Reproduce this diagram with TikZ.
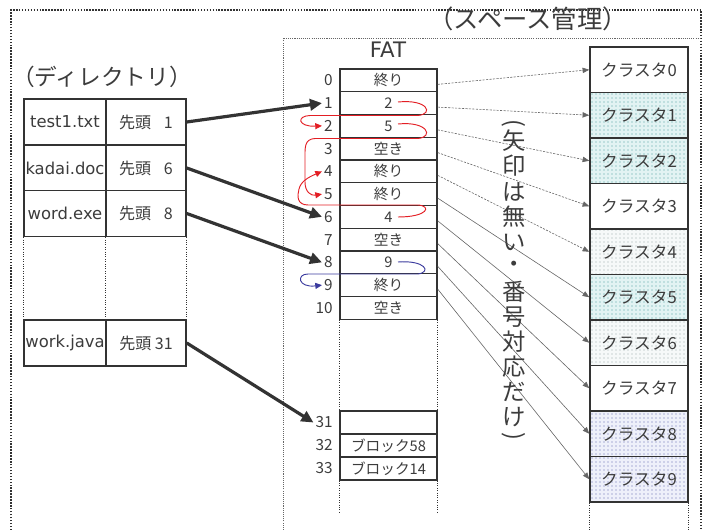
\documentclass[tikz,border=0pt]{standalone}
\usepackage{fontspec}
\setmainfont{Noto Sans CJK JP}
\newfontfamily\latinfont{DejaVu Sans}
\usetikzlibrary{arrows.meta,patterns}
\definecolor{ink}{HTML}{333333}
\definecolor{txt}{HTML}{3C3C3C}
\definecolor{fred}{HTML}{E31E24}
\definecolor{fblue}{HTML}{3B3B9E}
\definecolor{lnk}{HTML}{666666}
\definecolor{tealbg}{HTML}{E2F3F3}
\definecolor{tealdot}{HTML}{4E9E9E}
\definecolor{graybg}{HTML}{F6F9F9}
\definecolor{graydot}{HTML}{9AA8A8}
\definecolor{bluebg}{HTML}{EEF0FA}
\definecolor{bluedot}{HTML}{6266B0}
\begin{document}
\begin{tikzpicture}[x=0.75pt,y=-0.75pt,
  grid/.style={draw=ink, line width=1.1pt},
  dcell/.style={grid, minimum height=46*0.75pt, inner sep=0pt, text=txt, font=\fontsize{12}{14}\selectfont},
  fname/.style={dcell, font=\latinfont\fontsize{12.3}{14}\selectfont},
  fcell/.style={grid, fill=white, minimum width=97*0.75pt, minimum height=22.75*0.75pt, inner sep=0pt, text=txt, font=\fontsize{11}{12}\selectfont},
  ccell/.style={grid, minimum width=98*0.75pt, minimum height=45.5*0.75pt, inner sep=0pt, text=txt, font=\fontsize{12.5}{14}\selectfont},
  num/.style={anchor=east, text=txt, font=\fontsize{11.5}{13}\selectfont, inner sep=1.5pt},
  cplain/.style={fill=white},
  tdot/.style={preaction={fill=tealbg}, pattern=dots, pattern color=tealdot},
  gdot/.style={preaction={fill=graybg}, pattern=dots, pattern color=graydot},
  bdot/.style={preaction={fill=bluebg}, pattern=dots, pattern color=bluedot},
  flink/.style={draw=lnk, line width=0.45pt, -{Triangle[length=5pt,width=4pt]}},
  bigarrow/.style={draw=ink, line width=2.4pt, -{Triangle[length=9pt,width=8.5pt]}},
  redarr/.style={draw=fred, line width=0.7pt, -{Triangle[length=5pt,width=4.5pt]}},
  bluearr/.style={draw=fblue, line width=0.7pt, -{Triangle[length=5pt,width=4.5pt]}},
  vchar/.style={text=txt, font=\fontsize{17.5}{19}\selectfont, inner sep=0pt}
]
\useasboundingbox (0,0) rectangle (708,530);
% frames
\draw[ink, line width=1.1pt, dash pattern=on 1.1pt off 1.1pt] (11,530) -- (11,10) -- (701,10) -- (701,530);
\draw[lnk, line width=0.6pt, dash pattern=on 0.8pt off 0.8pt] (283,530) -- (283,38) -- (700,38);

% titles
\node[text=txt, font=\fontsize{19}{21}\selectfont] (sp) at (528,19) {（スペース管理）};
\node[text=txt, font=\fontsize{17}{19}\selectfont] (dir) at (102,77) {（ディレクトリ）};
\node[text=txt, font=\latinfont\fontsize{16}{18}\selectfont] (fat) at (388,50) {FAT};

% directory
\node[fname, fill=white, minimum width=82*0.75pt] (f1) at (65,122) {test1.txt};
\node[dcell, fill=white, minimum width=80*0.75pt] (h1) at (146,122) {先頭\hspace{0.8em}1};
\node[fname, fill=white, minimum width=82*0.75pt] (f2) at (65,168) {kadai.doc};
\node[dcell, fill=white, minimum width=80*0.75pt] (h2) at (146,168) {先頭\hspace{0.8em}6};
\node[fname, fill=white, minimum width=82*0.75pt] (f3) at (65,213.5) {word.exe};
\node[dcell, fill=white, minimum width=80*0.75pt] (h3) at (146,213.5) {先頭\hspace{0.8em}8};
\node[fname, fill=white, minimum width=82*0.75pt] (f4) at (65,343) {work.java};
\node[dcell, fill=white, minimum width=80*0.75pt] (h4) at (146,343) {先頭 31};
\draw[ink, line width=0.8pt, densely dotted] (f3.south west) -- (f4.north west);
\draw[ink, line width=0.8pt, densely dotted] (h3.south west) -- (h4.north west);
\draw[ink, line width=0.8pt, densely dotted] (h3.south east) -- (h4.north east);

% FAT
\foreach \i/\t in {0/終り,1/2,2/5,3/空き,4/終り,5/終り,6/4,7/空き,8/9,9/終り,10/空き}{
  \node[fcell] (r\i) at (388.5,{80.375+22.75*\i}) {\t};
  \node[num] (n\i) at (335,{80.375+22.75*\i}) {\i};
}
\node[fcell] (r31) at (388.5,422.5) {};
\node[fcell] (r32) at (388.5,445.5) {ブロック58};
\node[fcell] (r33) at (388.5,468.5) {ブロック14};
\node[num] (n31) at (335,422.5) {31};
\node[num] (n32) at (335,445.5) {32};
\node[num] (n33) at (335,468.5) {33};
\draw[ink, line width=0.8pt, densely dotted] (r10.south west) -- (r31.north west);
\draw[ink, line width=0.8pt, densely dotted] (r10.south east) -- (r31.north east);
\draw[ink, line width=0.8pt, densely dotted] (r33.south west) -- ++(0,32);
\draw[ink, line width=0.8pt, densely dotted] (r33.south east) -- ++(0,32);

% clusters
\foreach \i/\s in {0/cplain,1/tdot,2/tdot,3/cplain,4/gdot,5/tdot,6/gdot,7/cplain,8/bdot,9/bdot}{
  \node[ccell, \s] (c\i) at (639,{69.75+45.5*\i}) {クラスタ\i};
}
\draw[ink, line width=0.8pt, densely dotted] (c9.south west) -- ++(0,30);
\draw[ink, line width=0.8pt, densely dotted] (c9.south east) -- ++(0,30);

% FAT -> cluster links
\foreach \i in {0,...,4}{
  \draw[flink, dash pattern=on 1.6pt off 1pt] ([yshift=-3pt]r\i.east) -- (c\i.west);
}
\foreach \i in {5,...,9}{
  \draw[flink] ([yshift=-3pt]r\i.east) -- (c\i.west);
}

% directory -> FAT
\draw[bigarrow] (h1.east) -- (n1.west);
\draw[bigarrow] (h2.east) -- (n6.west);
\draw[bigarrow] (h3.east) -- (n8.west);
\draw[bigarrow] (h4.east) -- (n31.west);

% chains
\draw[redarr] (398,102) .. controls (428,99) and (434,114) .. (418,115.5) -- (310,115.5) .. controls (296,116) and (298,127) .. (n2.west);
\draw[redarr] (398,124) .. controls (428,121) and (434,137) .. (418,138.5) -- (315,138.5) .. controls (304,139) and (305,148) .. (305,160) -- (305,182) .. controls (305,192) and (311,196) .. (n5.west);
\draw[redarr] (398,217) .. controls (428,217) and (432,206) .. (418,205) -- (308,205) .. controls (297,205) and (297,196) .. (299,189) .. controls (301,181) and (309,177) .. (n4.west);
\draw[bluearr] (398,262) .. controls (425,260) and (432,272) .. (418,274) -- (308,274) .. controls (296,274) and (298,288) .. (n9.west);

% vertical note
\node[vchar, rotate=-90] (v0) at (514,123) {(};
\foreach \ch/\y [count=\k] in {矢/141,印/166,は/192,無/217,い/242,・/267,番/292,号/317,対/342,応/367,だ/392,け/417}{
  \node[vchar] (v\k) at (514,\y) {\ch};
}
\node[vchar, rotate=-90] (v13) at (514,436) {)};
\end{tikzpicture}
\end{document}
